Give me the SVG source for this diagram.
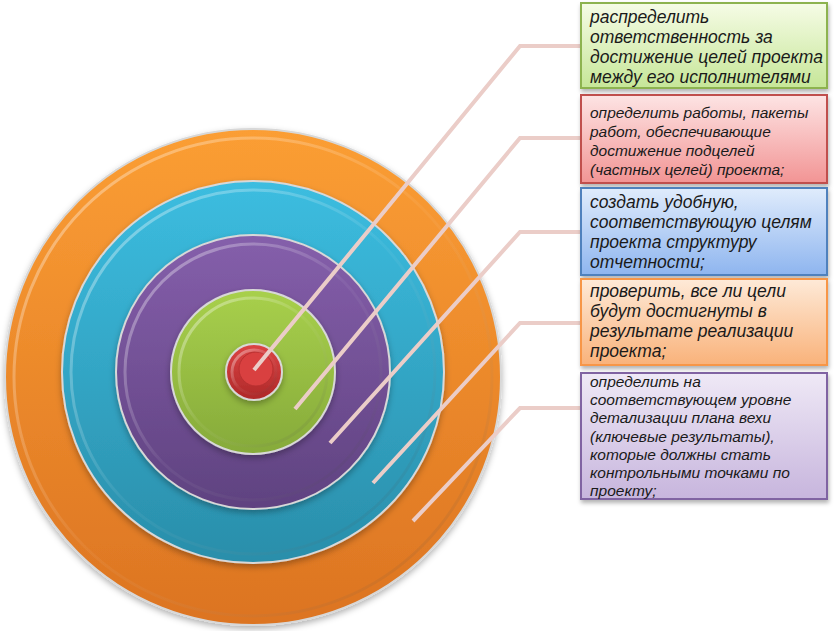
<svg xmlns="http://www.w3.org/2000/svg" width="838" height="631" viewBox="0 0 838 631">
<defs>
<linearGradient id="gOr" x1="0" y1="0" x2="0" y2="1"><stop offset="0" stop-color="#fb9e34"/><stop offset="1" stop-color="#dc7422"/></linearGradient>
<linearGradient id="gCy" x1="0" y1="0" x2="0" y2="1"><stop offset="0" stop-color="#3cbde0"/><stop offset="1" stop-color="#2a8eaa"/></linearGradient>
<linearGradient id="gPu" x1="0" y1="0" x2="0" y2="1"><stop offset="0" stop-color="#855fab"/><stop offset="1" stop-color="#5f4280"/></linearGradient>
<linearGradient id="gGr" x1="0" y1="0" x2="0" y2="1"><stop offset="0" stop-color="#a8d04c"/><stop offset="1" stop-color="#86aa3a"/></linearGradient>
<linearGradient id="gRd" x1="0" y1="0" x2="0" y2="1"><stop offset="0" stop-color="#dc4444"/><stop offset="1" stop-color="#ae2828"/></linearGradient>
<linearGradient id="bevel" x1="0" y1="0" x2="1" y2="1"><stop offset="0" stop-color="#ffffff" stop-opacity="0.45"/><stop offset="0.5" stop-color="#ffffff" stop-opacity="0.05"/><stop offset="1" stop-color="#000000" stop-opacity="0.12"/></linearGradient>
<linearGradient id="b1" x1="0" y1="0" x2="0" y2="1"><stop offset="0" stop-color="#f6fce6"/><stop offset="1" stop-color="#c6e698"/></linearGradient>
<linearGradient id="b2" x1="0" y1="0" x2="0" y2="1"><stop offset="0" stop-color="#fde4e4"/><stop offset="1" stop-color="#f29494"/></linearGradient>
<linearGradient id="b3" x1="0" y1="0" x2="0" y2="1"><stop offset="0" stop-color="#e0ecfc"/><stop offset="1" stop-color="#8eb5ef"/></linearGradient>
<linearGradient id="b4" x1="0" y1="0" x2="0" y2="1"><stop offset="0" stop-color="#feead8"/><stop offset="1" stop-color="#f9b27a"/></linearGradient>
<linearGradient id="b5" x1="0" y1="0" x2="0" y2="1"><stop offset="0" stop-color="#efe9f6"/><stop offset="1" stop-color="#c7b5dd"/></linearGradient>
<filter id="sh" x="-10%" y="-10%" width="125%" height="130%"><feDropShadow dx="1" dy="3" stdDeviation="2" flood-color="#000" flood-opacity="0.3"/></filter>
<filter id="csh" x="-10%" y="-10%" width="125%" height="125%"><feDropShadow dx="0" dy="3" stdDeviation="3" flood-color="#000" flood-opacity="0.3"/></filter>
</defs>
<style>
.ring{stroke:#d8d8d8;stroke-width:2;filter:url(#csh)}
.bev{fill:none;stroke:url(#bevel);stroke-width:3}
.con{fill:none;stroke:#ebcdc8;stroke-width:4;stroke-linejoin:miter}
.box{stroke-width:2;filter:url(#sh)}
.t{font-family:"Liberation Sans",Arial,sans-serif;font-style:italic;fill:#1a1a1a}
.big{font-size:17.5px}
.sm{font-size:15.5px}
</style>
<g id="rings">
<g id="ring-orange"><circle class="ring" cx="253" cy="377" r="248" fill="url(#gOr)"/><circle class="bev" cx="253" cy="377" r="239"/></g>
<g id="ring-cyan"><circle class="ring" cx="253" cy="372" r="191" fill="url(#gCy)"/><circle class="bev" cx="253" cy="372" r="182"/></g>
<g id="ring-purple"><circle class="ring" cx="253" cy="372" r="137" fill="url(#gPu)"/><circle class="bev" cx="253" cy="372" r="128"/></g>
<g id="ring-green"><circle class="ring" cx="253" cy="372" r="82" fill="url(#gGr)"/><circle class="bev" cx="253" cy="372" r="74"/></g>
<g id="ring-red"><circle class="ring" cx="254" cy="372" r="28" fill="url(#gRd)"/><circle cx="256" cy="369" r="17" fill="#d94040" stroke="#b83030" stroke-width="1"/><circle class="bev" cx="254" cy="372" r="22"/></g>
</g>
<g id="connectors">
<polyline class="con" points="254,370 520,46 580,46"/>
<polyline class="con" points="295,409 520,138 580,138"/>
<polyline class="con" points="330,443 520,232 580,232"/>
<polyline class="con" points="373,483 520,323 580,323"/>
<polyline class="con" points="413,521 520,408 580,408"/>
</g>
<g id="box1"><rect class="box" x="581" y="3" width="246" height="85" fill="url(#b1)" stroke="#8db34f"/>
<text class="t big" x="590"><tspan x="590" y="23">распределить</tspan><tspan x="590" y="43">ответственность за</tspan><tspan x="590" y="63">достижение целей проекта</tspan><tspan x="590" y="83">между его исполнителями</tspan></text></g>
<g id="box2"><rect class="box" x="581" y="95" width="246" height="88" fill="url(#b2)" stroke="#c0504d"/>
<text class="t sm" x="590"><tspan x="590" y="118">определить работы, пакеты</tspan><tspan x="590" y="137">работ, обеспечивающие</tspan><tspan x="590" y="156">достижение подцелей</tspan><tspan x="590" y="175">(частных целей) проекта;</tspan></text></g>
<g id="box3"><rect class="box" x="581" y="188" width="246" height="87" fill="url(#b3)" stroke="#4f81bd"/>
<text class="t big" x="590"><tspan x="590" y="208">создать удобную,</tspan><tspan x="590" y="228">соответствующую целям</tspan><tspan x="590" y="248">проекта структуру</tspan><tspan x="590" y="268">отчетности;</tspan></text></g>
<g id="box4"><rect class="box" x="581" y="279" width="246" height="86" fill="url(#b4)" stroke="#f79646"/>
<text class="t big" x="590"><tspan x="590" y="297">проверить, все ли цели</tspan><tspan x="590" y="317">будут достигнуты в</tspan><tspan x="590" y="337">результате реализации</tspan><tspan x="590" y="357">проекта;</tspan></text></g>
<g id="box5"><rect class="box" x="581" y="373" width="246" height="126" fill="url(#b5)" stroke="#8064a2"/>
<text class="t sm" x="590"><tspan x="590" y="387">определить на</tspan><tspan x="590" y="405">соответствующем уровне</tspan><tspan x="590" y="423">детализации плана вехи</tspan><tspan x="590" y="442">(ключевые результаты),</tspan><tspan x="590" y="460">которые должны стать</tspan><tspan x="590" y="478">контрольными точками по</tspan><tspan x="590" y="496">проекту;</tspan></text></g>
</svg>
